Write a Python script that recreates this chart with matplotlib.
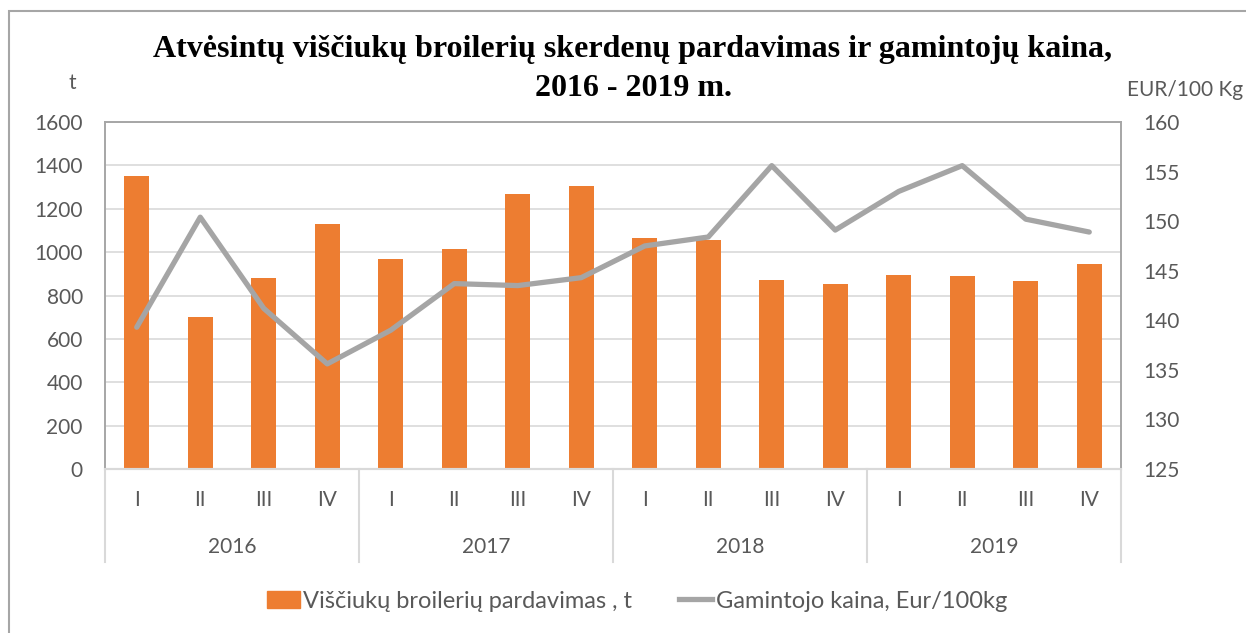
import matplotlib.pyplot as plt
import matplotlib.transforms as mtransforms
from matplotlib.patches import Rectangle
from matplotlib.lines import Line2D
from matplotlib.patches import Patch
import numpy as np

# data
years = ['2016', '2017', '2018', '2019']
quarters = ['I', 'II', 'III', 'IV']
sales = [1350, 700, 880, 1130,
         970, 1015, 1270, 1305,
         1065, 1058, 870, 855,
         895, 890, 865, 945]
price = [139.3, 150.4, 141.2, 135.6,
         139.0, 143.7, 143.5, 144.3,
         147.5, 148.4, 155.6, 149.1,
         153.0, 155.6, 150.2, 148.9]

orange = '#ed7d31'
grey_line = '#a5a5a5'
txt = '#595959'
W, H = 1246, 633

plt.rcParams['font.family'] = ['Lato', 'DejaVu Sans']

fig = plt.figure(figsize=(W / 100, H / 100), dpi=100)
ax = fig.add_axes([105 / W, 1 - 469 / H, (1121 - 105) / W, (469 - 122) / H])
ax2 = ax.twinx()

x = np.arange(len(sales))
ax.bar(x, sales, width=0.4, color=orange, zorder=2)
ax.set_ylim(0, 1600)
ax.set_yticks(range(0, 1601, 200))
ax.set_xlim(-0.5, len(sales) - 0.5)
ax.set_xticks([])
ax.grid(axis='y', color='#d9d9d9', lw=1.2, zorder=0)
ax.set_axisbelow(True)
ax.tick_params(axis='y', length=0, pad=16, labelsize=15, labelcolor=txt)

ax2.plot(x, price, color=grey_line, lw=3.8, solid_capstyle='round', zorder=3)
ax2.set_ylim(125, 160)
ax2.set_yticks(range(125, 161, 5))
ax2.tick_params(axis='y', length=0, pad=16, labelsize=15, labelcolor=txt)

for a in (ax, ax2):
    for s in ('left', 'right', 'top'):
        a.spines[s].set_color('#a6a6a6')
        a.spines[s].set_linewidth(1.2)
    a.spines['bottom'].set_color('#d9d9d9')
    a.spines['bottom'].set_linewidth(1.5)

# two-level category axis
trans = mtransforms.blended_transform_factory(ax.transData, ax.transAxes)
for i, q in enumerate(quarters * len(years)):
    ax.text(i, -0.089, q, transform=trans, ha='center', va='center',
            fontsize=15, color=txt)
for k, yr in enumerate(years):
    ax.text(k * 4 + 1.5, -0.225, yr, transform=trans, ha='center', va='center',
            fontsize=15, color=txt)
for k in range(len(years) + 1):
    ax.plot([k * 4 - 0.5, k * 4 - 0.5], [0, -0.268], transform=trans,
            color='#d9d9d9', lw=1.5, clip_on=False)

# titles and axis units
fig.text(633 / W, 1 - 50 / H, 'Atvėsintų viščiukų broilerių skerdenų pardavimas ir gamintojų kaina,',
         ha='center', va='center', fontsize=23, fontweight='bold',
         family='Liberation Serif')
fig.text(633 / W, 1 - 88 / H, '2016 - 2019 m.', ha='center', va='center',
         fontsize=23, fontweight='bold', family='Liberation Serif')
fig.text(72 / W, 1 - 83 / H, 't', ha='center', va='center', fontsize=15, color=txt)
fig.text(1243 / W, 1 - 90 / H, 'EUR/100 Kg', ha='right', va='center', fontsize=15, color=txt)

# legend
handles = [Patch(color=orange, label='Viščiukų broilerių pardavimas , t'),
           Line2D([], [], color=grey_line, lw=3.8, label='Gamintojo kaina, Eur/100kg')]
fig.legend(handles=handles, loc='center', bbox_to_anchor=(637 / W, 1 - 601 / H), ncol=2,
           frameon=False, fontsize=17, labelcolor=txt, handlelength=1.4,
           handletextpad=0.15, columnspacing=2.0)

# chart border
fig.patches.append(Rectangle((9 / W, -0.1), 1.2, 1 - 11 / H + 0.1, transform=fig.transFigure,
                             fill=False, edgecolor='#a6a6a6', lw=1.5))

fig.savefig('out.png', dpi=100)
